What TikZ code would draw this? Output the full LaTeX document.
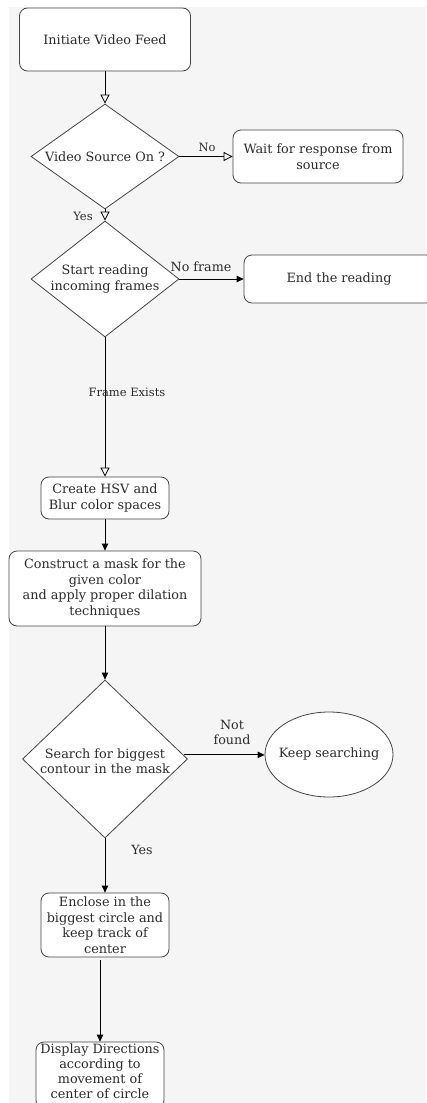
\documentclass[tikz,border=0pt]{standalone}
\usepackage{fontspec}
\setmainfont{DejaVu Serif}
\usetikzlibrary{shapes.geometric,arrows.meta,calc}
\definecolor{bgc}{HTML}{F5F5F5}
\definecolor{txt}{HTML}{2B2B2B}
\definecolor{edge}{HTML}{444444}
\begin{document}
\begin{tikzpicture}[x=1pt,y=-1pt,
  every node/.style={text=txt},
  main/.style={font=\fontsize{12.8}{15.5}\selectfont, align=center, inner sep=0pt},
  box/.style={main, draw=edge, fill=white, rounded corners=8pt, line width=0.8pt},
  dia/.style={draw=edge, fill=white, diamond, aspect=1, inner sep=0pt, line width=0.8pt},
  ell/.style={draw=edge, fill=white, ellipse, inner sep=0pt, line width=0.8pt},
  lab/.style={font=\fontsize{11.5}{13}\selectfont, inner sep=0pt, align=center},
  labb/.style={font=\fontsize{12.7}{15}\selectfont, inner sep=0pt, align=center},
  openarr/.style={-{Triangle[open,length=9pt,width=9pt]}, line width=0.8pt},
  fillarr/.style={-{Triangle[length=7pt,width=6.5pt]}, line width=0.8pt}
]
\useasboundingbox (0,0) rectangle (426,1103);
\fill[bgc] (9,7) rectangle (426,1103);

\node[box, minimum width=171pt, minimum height=63pt] (init) at (105,39.5) {Initiate Video Feed};
\node[dia, minimum width=148pt, minimum height=105pt] (d1) at (105,156.5) {};
\node[main] (d1t) at (d1.center) {Video Source On ?};
\node[box, minimum width=170pt, minimum height=53pt] (wait) at (318,156.5) {Wait for response from\\source};
\node[dia, minimum width=148pt, minimum height=116pt] (d2) at (105,279) {};
\node[main] (d2t) at (d2.center) {Start reading\\incoming frames};
\node[box, minimum width=190pt, minimum height=48pt] (endr) at (339,279) {End the reading};
\node[box, minimum width=128pt, minimum height=42pt] (hsv) at (105,498) {Create HSV and\\Blur color spaces};
\node[box, minimum width=192pt, minimum height=75pt] (cons) at (105,588.5) {Construct a mask for the\\given color\\and apply proper dilation\\techniques};
\node[dia, minimum width=165pt, minimum height=158pt] (d3) at (105,759) {};
\node[main] (d3t) at ([yshift=-2pt]d3.center) {Search for biggest\\contour in the mask};
\node[ell, minimum width=128pt, minimum height=85pt] (keep) at (329,754.5) {};
\node[main] (keept) at (keep.center) {Keep searching};
\node[box, minimum width=128pt, minimum height=66pt] (disp) at (100,1075) {};
\node[main, font=\fontsize{12.8}{15}\selectfont] (dispt) at (100,1071.5) {Display Directions\\according to\\movement of\\center of circle};
\node[box, minimum width=128pt, minimum height=64pt] (enc) at (105,925) {Enclose in the\\biggest circle and\\keep track of\\center};

\draw[openarr] (init.south) -- (d1.north);
\draw[openarr] (d1.east) -- (wait.west);
\node[lab] (lno) at (207,147) {No};
\draw[openarr] (d1.south) -- (d2.north);
\node[lab] (lyes) at (83,216) {Yes};
\draw[fillarr] (d2.east) -- (endr.west);
\node[labb] (lnof) at (201,267) {No frame};
\draw[openarr] (d2.south) -- (hsv.north);
\node[lab] (lfe) at (127,392) {Frame Exists};
\draw[fillarr] (hsv.south) -- (cons.north);
\draw[fillarr] (cons.south) -- (d3.north);
\draw[fillarr] (d3.3.5) -- (d3.3.5 -| keep.west);
\node[labb] (lnf) at (232,732) {Not\\found};
\draw[fillarr] (d3.south) -- (enc.north);
\node[labb] (lyes2) at (142,850) {Yes};
\draw[fillarr] ([yshift=-3pt]enc.south -| disp.north) -- (disp.north);
\end{tikzpicture}
\end{document}
